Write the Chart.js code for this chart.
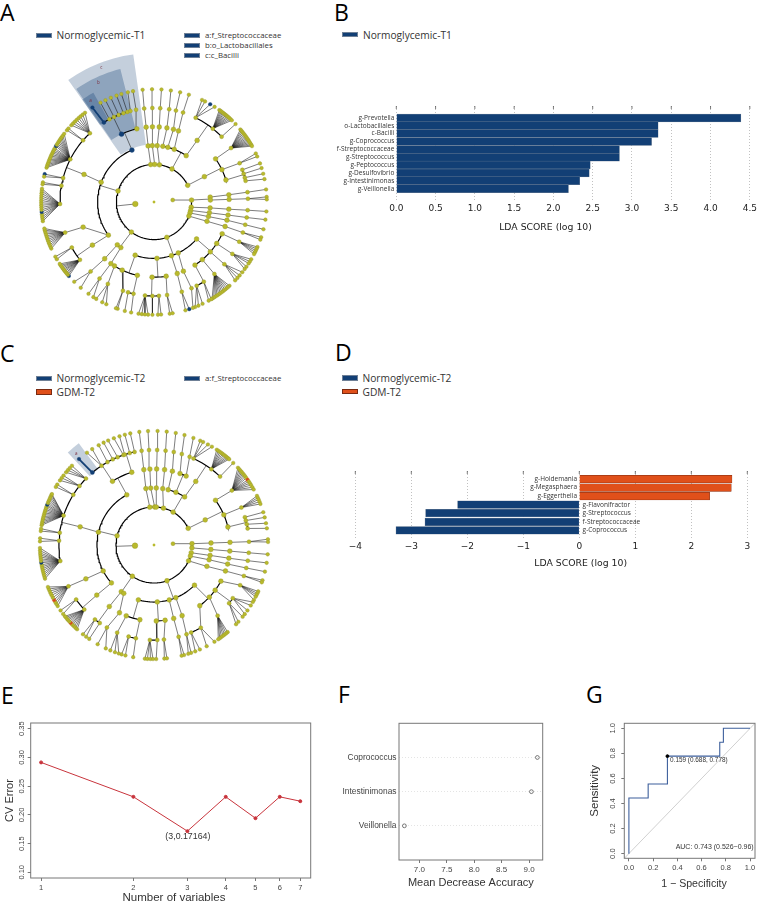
<!DOCTYPE html>
<html>
<head>
<meta charset="utf-8">
<script src="https://cdn.jsdelivr.net/npm/chart.js@4"></script>
<style>
  html, body { margin: 0; padding: 0; background: #fff; width: 760px; height: 902px; overflow: hidden; }
  body { position: relative; font-family: "Open Sans", sans-serif; color: #333; }
  canvas { position: absolute; }
  .letter { position: absolute; font-size: 23px; line-height: 22px; color: #000; }
  .swatch { position: absolute; width: 16px; height: 5.5px; box-sizing: border-box; border: 0.5px solid #6f8096; background: #123f75; }
  .swatch.orange { background: #e0501a; border-color: #7a2a10; }
  .leg { position: absolute; font-size: 10.2px; line-height: 12px; color: #333; white-space: nowrap; }
  .leg.small { font-size: 7.8px; }
  .axis { position: absolute; transform: translate(-50%, -50%); white-space: nowrap; color: #333; font-family: "Liberation Sans", Arial, sans-serif; font-size: 11.5px; line-height: 14px; }
  .axis.lda { font-family: "DejaVu Sans", sans-serif; font-size: 9.3px; color: #222; }
</style>
</head>
<body>

<div class="letter" style="left:0;top:1px">A</div>
<div class="letter" style="left:334px;top:1px">B</div>
<div class="letter" style="left:0;top:342px">C</div>
<div class="letter" style="left:335px;top:341px">D</div>
<div class="letter" style="left:1px;top:684px">E</div>
<div class="letter" style="left:338px;top:683px">F</div>
<div class="letter" style="left:586px;top:683px">G</div>

<div class="swatch" style="left:36px;top:32.5px"></div><div class="leg" style="left:56.5px;top:29px">Normoglycemic-T1</div>
<div class="swatch" style="left:184px;top:32.5px"></div><div class="leg small" style="left:205px;top:29px">a:f_Streptococcaceae</div>
<div class="swatch" style="left:184px;top:42.5px"></div><div class="leg small" style="left:205px;top:39px">b:o_Lactobacillales</div>
<div class="swatch" style="left:184px;top:52.5px"></div><div class="leg small" style="left:205px;top:49px">c:c_Bacilli</div>
<div class="swatch" style="left:342px;top:31.5px"></div><div class="leg" style="left:363px;top:28.5px">Normoglycemic-T1</div>

<div class="swatch" style="left:36px;top:375.5px"></div><div class="leg" style="left:56.5px;top:372px">Normoglycemic-T2</div>
<div class="swatch orange" style="left:36px;top:389px"></div><div class="leg" style="left:56.5px;top:386px">GDM-T2</div>
<div class="swatch" style="left:184px;top:375.5px"></div><div class="leg small" style="left:205px;top:372px">a:f_Streptococcaceae</div>
<div class="swatch" style="left:342px;top:375px"></div><div class="leg" style="left:362.5px;top:372px">Normoglycemic-T2</div>
<div class="swatch orange" style="left:342px;top:388.5px"></div><div class="leg" style="left:362.5px;top:386px">GDM-T2</div>

<canvas id="cladeA" width="320" height="320" style="left:-6px;top:42px"></canvas>
<canvas id="ldaB" width="435" height="133" style="left:325px;top:100px"></canvas>
<canvas id="cladeC" width="320" height="320" style="left:-6px;top:385px"></canvas>
<canvas id="ldaD" width="430" height="104" style="left:330px;top:465px"></canvas>
<canvas id="cvE" width="325" height="189" style="left:0;top:715px"></canvas>
<canvas id="accF" width="225" height="175" style="left:330px;top:715px"></canvas>
<canvas id="rocG" width="175" height="175" style="left:585px;top:715px"></canvas>

<div class="axis lda" style="left:545.5px;top:226.7px">LDA SCORE (log 10)</div>
<div class="axis lda" style="left:580.7px;top:563.3px">LDA SCORE (log 10)</div>
<div class="axis" style="left:174px;top:897px">Number of variables</div>
<div class="axis" style="left:694px;top:882.7px;font-size:10.6px">1 &minus; Specificity</div>

<script>
// panel B
const namesB = ['g-Prevotella','o-Lactobacillales','c-Bacilli','g-Coprococcus','f-Streptococcaceae','g-Streptococcus','g-Peptococcus','g-Desulfovibrio','g-Intestinimonas','g-Veillonella']
const scoresB = [4.386,3.333,3.333,3.249,2.84,2.84,2.469,2.456,2.334,2.191]
const ticksB = [0,0.5,1,1.5,2,2.5,3,3.5,4,4.5]

// panel D
const namesD = ['g-Holdemania','g-Megasphaera','g-Eggerthella','g-Flavonifractor','g-Streptococcus','f-Streptococcaceae','g-Coprococcus']
const scoresD = [2.726,2.714,2.327,-2.173,-2.744,-2.756,-3.274]
const ticksD = [-4,-3,-2,-1,0,1,2,3]

// panel E
const varsE = [1,2,3,4,5,6,7]
const errorE = [0.2913,0.2314,0.17164,0.2314,0.1942,0.2314,0.2238]
const ticksE = [0.10,0.15,0.20,0.25,0.30,0.35]

// panel F
const namesF = ['Coprococcus','Intestinimonas','Veillonella']
const accF = [9.152,9.043,6.727]
const ticksF = [7,7.5,8,8.5,9]

// panel G
const rocX = [0,0,0.159,0.159,0.318,0.318,0.75,0.75,0.78,0.78,1]
const rocY = [0,0.444,0.444,0.556,0.556,0.778,0.778,0.889,0.889,1,1]
const ticksG = [0,0.2,0.4,0.6,0.8,1]

// cladograms: [angle, ...children], a bare number is a leaf. angle is degrees clockwise from north,
// depth in the nesting is the ring. 's' = children joined by straight lines, no arc
const treeA = [
 [84,
  [87,[85,[84.5,[84,83.6]]],[88,[88,[88,87.4,88.7]]]],
  [98,[96,[95.5,[95,94.8]]]]],
 [264,
  [103,[101,[100,[99.5,99]]]],
  [107,[105,[104,[104,104]]]],
  [112,[110,[109,[109,108.2,109.5]]]],
  [160,
   [131,
    [115,[115,113.5,114.5,115.5,116.5,117.5]],
    [123.5,[123.5,120.5,121.8,123,125,126.5]],
    [131.5,[131.5,128.5,130.6,132.3,134]],
    [140,[140,138,139,140,141,142,143,144,145,146,147,148,149]],
    [147,[148,149.5,151],[153,154.5,156.8,158.6]]],
   [154.5,[157,[156.5,159.8]]],
   [162,[162,[162.8,161.8,163.8]]],
   [177,[181.5,[185.5,187.9,186.2,184.6,183],[181,180.8],[177,178,176.4]],[170.7,[172,172,170.5]]],
   [199.5,[192.8,[192.6,191.7],[196,195]],[205,[199.3,198.8,199.7]],[211.7,[209.4,205,207.3,210.8]]]],
  [217,[220.6,[221,[222.4,225,220.5]]],[216,[215,[215.4,215.5,212.5]]]],
  [287,
   [234,'s',
    [235,[241,239.5,241],[232,229,229.8,230.5,231.2,232,232.7,233.4,234.2,235,235.8,236.7]],
    [250.5,[251,245.6,246.6,247.6,248.6,249.6,250.6,251.6,252.6,253.6,254.6,255.5,256.4]]],
   [290.5,[291.5,
    [268.8,260.2,261.3,262.4,263.6,264.9,266,267.2,268.4,269.6,270.8,272,273.2,274.4,275.6,276.7],
    [280,280,279],
    [284.8,284.3,283],
    [297,287.7,288.6,289.5,290.4,291.3,292.2,293.1,294,294.9,295.8,296.7,297.6,298.5,299.7,300.5,301.4,302.3,303.2,304.1,305,306,307.2],
    [311,309.5,310.7],
    [317,312.9,314.2,315.5,316.8,318.1,319.4,320.8,322.3]]],
   [337,
    [334.4,[327.8,326.9],[331.7,331.7],[334.8,334.5],[337.9,337.5],[341,340.6],[343.5,343.2],[345.5,346.6]],
    [346.8,[349,349.3]]]],
  [355,[354,[354,[354,354.2]]]],
  [361,[358.3,[358.8,[359,359]]]],
  [368.3,[363.3,[364,[363.8,363.8]]]],
  [388.6,
   [9,[9.9,[9.3,8.6]]],
   [14.2,[15,[13.5,13.4]]],
   [21,[19,[18,18]]],
   [34.8,[35,[26.3,25.2,26.9,29.9,32.5],[38.7,35.4,36.1,36.8,37.5,38.2,38.9,39.6,40.3,41,41.8,42.7,43.6],[46,46.3]]]],
  [423.6,[63.3,
   [55,[55,50,50.8,51.6,52.4,53.2,54,54.8,55.6,56.4,57.2,58,58.8,59.6,60.3]],
   [64.5,[65.6,64.5,66.2]],
   [73,[70,70],[72.5,72.5],[75,75.5],[77,78.3]]]]]
]
const blueA = [[3,337],[4,334.4],[5,327.8],[6,326.9],[6,29.9],[6,161.8],[6,229],[6,264.9],[6,284.3],[6,299.7]]
const orangeA = []
const blueEdgeA = [[5,327.8,6,326.9]]
const wedgesA = [[324.9,352,3.07,7.93,0.25],[325.5,345.8,4,7.3,0.3],[325,331,5,6.65,0.3]]
const wedgeLettersA = [['c',338.5,7.65],['b',335,7],['a',327.8,6.34]]

const treeC = [
 [86,
  [88,[88,[88,[88,87.1,88.5]]]],
  [94.4,[94.5,[94.6,[94.7,94.7]]]]],
 [268,
  [101.8,[100.5,[100,[99.5,99]]]],
  [107,[105,[104.5,[104,103.5]]]],
  [114.6,[112,[110,[109,108,109.1]]]],
  [160,
   [134.8,
    [118.4,[115,114,115,116,117,118.8]],
    [126.5,[124,120,122,125,127.3],[127.8,129,132.3,134]],
    [133.3,[138,139.8,140.8,141.8,142.8,143.8,144.8,145.7]],
    [143,[150.5,148,152.5],[157,156.3,158.8]]],
   [157.5,[158.3,[160,161,162.5]]],
   [164.5,[165,[165,164.7,166]]],
   [176.7,[178.3,[182.5,184.6,183.3,181.8,180.5],[178,178.9]],[171.6,[174,174.8,173.5]]],
   [195.9,[190.7,[191,190.5],[195.5,194.5,196.5]],[201.4,[202.8,198,200,202.5]]]],
  [214.7,[215,[216,[218.4,218.5,216.5],[214.8,214.6]]],[212,[207,[209.7,209.6,205]]]],
  [284,
   [228.3,[228.8,
    [227.2,222.4,223.4,224.4,225.4,226.2,227,227.9,228.8,229.6,230.5,231.3],
    [235,235,232.8]]],
   [242.9,[243.6,[244.2,237.6,238.9,240,241.2,242.5,243.8,245,246.2,247.3,248.4]]],
   [283,[283.8,
    [260.3,252.8,253.8,254.9,255.9,257,258,259,260,261.1,262,263,264,265,266,267.2,268.5],
    [272.6,273.4,271.8],
    [277.4,277,278.2],
    [288,280,280.9,281.8,282.7,283.6,284.5,285.4,286.3,287.2,288.1,289,289.9,290.7,291.6,292.5,293.4,294.3,295.2,296,296.5],
    [301.9,300.6,302],
    [308.4,304.5,306,307.5],
    [314.3,309.6,311,312.4,314]]],
   [331.5,
    [326.9,[319.6,318.9],[326.5,324,327.2],[330.7,331],[334.3,333.8],[337.5,336.3],[341.2,339.4]],
    [343,[342,342.4],[345.2,345.2],[348.2,348]]]],
  [353.6,[351.8,[352.3,[352.5,352.6]]]],
  [361,[356.7,[356.9,[357,357]]]],
  [363.5,[362.3,[362,[361.9,361.8]]]],
  [374.4,[368.8,[368,[367,366.4]]]],
  [390.3,
   [14.4,[14,[12,11]]],
   [22.6,[20,[17,15.5]],[25,[22,20.2]]],
   [32.5,[33.3,[24.6,23.9,25.5,28.2,30.5],[37.1,33.4,34.3,35.2,36.1,37,37.9,38.8,39.6,40.4,41.2],[44,44]]]],
  [424,[63.9,
   [54,[55,47.4,48.4,49.4,50.3,51.2,52.1,53,54,55.2,56.2,57.2,58.3,59.6,60.9]],
   [66.6,[66.8,64.5,65.5,66.5,67.7,68.9]],
   [76.3,[73,73.3],[75.1,76],[77.4,79],[80,81.6]]]]]
]
const blueC = [[5,319.6],[6,318.9],[6,261.1],[6,290.7]]
const orangeC = [[6,55.2],[6,241.2],[6,227]]
const blueEdgeC = [[5,319.6,6,318.9]]
const wedgesC = [[317,323.5,4.95,6.65,0.25]]
const wedgeLettersC = [['a',319.5,6.3]]

const NAVY = '#123f75'
const OLIVE = '#b9ba2c'
const sansR = '"Liberation Sans", Arial, sans-serif'
const sansD = '"DejaVu Sans", sans-serif'
const sansO = '"Open Sans", sans-serif'

Chart.defaults.animation = false
Chart.defaults.responsive = false
Chart.defaults.plugins.legend.display = false
Chart.defaults.plugins.tooltip.enabled = false

function polar(angle, ring) {
  const a = angle * Math.PI / 180
  return { x: ring * Math.sin(a), y: ring * Math.cos(a) }
}

function arcPoints(from, to, ring) {
  const pts = []
  const n = Math.max(2, Math.ceil(Math.abs(to - from) / 2))
  for (let i = 0; i <= n; i++) pts.push(polar(from + (to - from) * i / n, ring))
  return pts
}

function cladeChart(id, tree, blue, orange, blueEdge, wedges, letters, ringPx) {
  const thin = [], thick = [], nodes = [], radius = [], fill = [], stroke = []
  const has = (list, ring, a) => list.some(p => p[0] === ring && p[1] === a)
  const gap = { x: NaN, y: NaN }

  function addNode(a, ring) {
    nodes.push(polar(a, ring))
    let r = ring === 6 ? 1.8 : ring === 5 ? 2 : 2.4
    if (ring === 1) r = a > 180 ? 2.8 : 2
    radius.push(r)
    const col = has(blue, ring, a) ? NAVY : has(orange, ring, a) ? '#d9481a' : OLIVE
    fill.push(col)
    stroke.push(col === OLIVE ? '#97982a' : col)
  }

  function walk(node, ring) {
    const isLeaf = typeof node === 'number'
    const a = isLeaf ? node : node[0]
    addNode(a, ring)
    if (isLeaf) return
    const straight = node[1] === 's'
    const kids = node.slice(straight ? 2 : 1)
    const angles = kids.map(k => typeof k === 'number' ? k : k[0])
    if (kids.length > 1 && ring < 5 && !straight) {
      const lo = Math.min(...angles), hi = Math.max(...angles)
      let p = a
      while (p > hi + 180) p -= 360
      const end = Math.min(hi, Math.max(lo, p))
      thin.push(polar(a, ring), polar(end, ring + 1), gap)
      thick.push(...arcPoints(lo, hi, ring + 1), gap)
    } else {
      angles.forEach(b => thin.push(polar(a, ring), polar(b, ring + 1), gap))
    }
    kids.forEach(k => walk(k, ring + 1))
  }
  tree.forEach(n => walk(n, 1))
  nodes.push({ x: 0, y: 0 }); radius.push(1.2); fill.push(OLIVE); stroke.push(OLIVE)

  const blueLines = []
  blueEdge.forEach(e => blueLines.push(polar(e[1], e[0]), polar(e[3], e[2]), gap))

  const wedgeSets = wedges.map(w => ({
    data: [...arcPoints(w[0], w[1], w[3]), ...arcPoints(w[1], w[0], w[2])],
    showLine: true, fill: 'shape', borderWidth: 0, pointRadius: 0,
    backgroundColor: 'rgba(18,63,117,' + w[4] + ')'
  })).reverse()

  const lim = 160 / ringPx
  new Chart(document.getElementById(id), {
    type: 'scatter',
    data: { datasets: [
      { data: nodes, pointRadius: radius, pointBackgroundColor: fill, pointBorderColor: stroke, pointBorderWidth: 0.4 },
      { data: blueLines, showLine: true, borderColor: NAVY, borderWidth: 1.8, pointRadius: 0 },
      { data: thick, showLine: true, borderColor: '#000', borderWidth: 1.2, pointRadius: 0 },
      { data: thin, showLine: true, borderColor: '#111', borderWidth: 0.55, pointRadius: 0 },
      ...wedgeSets
    ] },
    options: {
      layout: { padding: 0 },
      scales: {
        x: { display: false, min: -lim, max: lim },
        y: { display: false, min: -lim, max: lim }
      }
    },
    plugins: [{
      id: 'wedgeLetters',
      afterDatasetsDraw(chart) {
        const c = chart.ctx
        c.save()
        c.font = '4.5px ' + sansO
        c.fillStyle = '#7a2a3a'
        c.textAlign = 'center'
        c.textBaseline = 'middle'
        letters.forEach(l => {
          const p = polar(l[1], l[2])
          c.fillText(l[0], chart.scales.x.getPixelForValue(p.x), chart.scales.y.getPixelForValue(p.y))
        })
        c.restore()
      }
    }]
  })
}

cladeChart('cladeA', treeA, blueA, orangeA, blueEdgeA, wedgesA, wedgeLettersA, 19.33)
cladeChart('cladeC', treeC, blueC, orangeC, blueEdgeC, wedgesC, wedgeLettersC, 19.55)

// fixes the plot rectangle in page pixels
function frame(cv, l, t, r, b) {
  return {
    padding: { top: t - cv.top, right: cv.left + cv.w - r, left: 0, bottom: 0 },
    xFit: s => { s.height = cv.top + cv.h - b },
    yFit: s => { s.width = l - cv.left }
  }
}

const setTicks = arr => s => { s.ticks = arr.map(v => ({ value: v })) }

const topMarks = {
  id: 'topMarks',
  afterDraw(chart) {
    const c = chart.ctx, s = chart.scales.x
    c.save()
    c.strokeStyle = '#444'
    c.lineWidth = 0.7
    s.ticks.forEach((t, i) => {
      const x = s.getPixelForTick(i)
      c.beginPath(); c.moveTo(x, chart.chartArea.top); c.lineTo(x, chart.chartArea.top + 3); c.stroke()
    })
    c.restore()
  }
}

function ldaOptions(f, yMin, yMax, xMin, xMax, ticks, fmt, yLabels) {
  return {
    indexAxis: 'y',
    layout: { padding: f.padding },
    scales: {
      x: {
        type: 'linear', min: xMin, max: xMax,
        afterBuildTicks: setTicks(ticks),
        afterFit: f.xFit,
        border: { display: false, dash: [1, 2] },
        grid: { color: 'rgba(0,0,0,0.35)', lineWidth: 0.7, drawTicks: false },
        ticks: { font: { family: sansD, size: 9 }, color: '#222', padding: 3, callback: fmt, autoSkip: false, maxRotation: 0 }
      },
      y: {
        type: 'linear', min: yMin, max: yMax, reverse: true,
        afterBuildTicks: setTicks(yLabels ? yLabels.map((_, i) => i) : []),
        afterFit: f.yFit,
        border: { display: false },
        grid: { display: false, drawTicks: false },
        ticks: { font: { family: sansO, size: 6.5 }, color: '#333', padding: 2, autoSkip: false, callback: v => yLabels ? yLabels[v] : '' }
      }
    }
  }
}

const fB = frame({ left: 325, top: 100, w: 435, h: 133 }, 396.3, 106, 752.3, 200)
new Chart(document.getElementById('ldaB'), {
  type: 'bar',
  data: { datasets: [{
    data: namesB.map((n, i) => ({ x: scoresB[i], y: i })),
    backgroundColor: NAVY, borderColor: '#6f8096', borderWidth: 0.5, barThickness: 7.8
  }] },
  options: ldaOptions(fB, -0.915, 9.84, 0, 4.5, ticksB, v => v.toFixed(1), namesB),
  plugins: [topMarks]
})

const fD = frame({ left: 330, top: 465, w: 430, h: 104 }, 355.3, 471, 747.3, 538)
new Chart(document.getElementById('ldaD'), {
  type: 'bar',
  data: { datasets: [{
    data: namesD.map((n, i) => ({ x: scoresD[i], y: i })),
    backgroundColor: scoresD.map(v => v > 0 ? '#e0501a' : NAVY),
    borderColor: scoresD.map(v => v > 0 ? '#7a2a10' : '#6f8096'),
    borderWidth: 0.5, barThickness: 7.6
  }] },
  options: ldaOptions(fD, -0.94, 6.9, -4, 3, ticksD, v => String(v).replace('-', '\u2212'), null),
  plugins: [topMarks, {
    id: 'zeroLabels',
    afterDatasetsDraw(chart) {
      const c = chart.ctx, zero = chart.scales.x.getPixelForValue(0)
      c.save()
      c.font = '6.5px ' + sansO
      c.fillStyle = '#333'
      c.textBaseline = 'middle'
      namesD.forEach((n, i) => {
        const up = scoresD[i] > 0
        c.textAlign = up ? 'right' : 'left'
        c.fillText(n, zero + (up ? -2.3 : 3.3), chart.scales.y.getPixelForValue(i))
      })
      c.restore()
    }
  }]
})

const GREY = '#777'
const TXT = '#444'

const boxLine = {
  id: 'boxLine',
  afterDraw(chart) {
    const a = chart.chartArea, c = chart.ctx
    c.save()
    c.strokeStyle = GREY
    c.lineWidth = 1
    c.strokeRect(a.left, a.top, a.right - a.left, a.bottom - a.top)
    c.restore()
  }
}

// R draws its y tick labels turned a quarter, scales here only do that on x
function sideTicks(x, size, fmt) {
  return {
    id: 'sideTicks',
    afterDraw(chart) {
      const c = chart.ctx, s = chart.scales.y
      c.save()
      c.font = size + 'px ' + sansR
      c.fillStyle = TXT
      c.textAlign = 'center'
      c.textBaseline = 'middle'
      s.ticks.forEach(t => {
        c.save()
        c.translate(x, s.getPixelForValue(t.value))
        c.rotate(-Math.PI / 2)
        c.fillText(fmt(t.value), 0, 0)
        c.restore()
      })
      c.restore()
    }
  }
}

function notes(list) {
  return {
    id: 'notes',
    afterDraw(chart) {
      const c = chart.ctx
      c.save()
      c.fillStyle = '#333'
      c.textBaseline = 'middle'
      list.forEach(n => {
        c.font = n.size + 'px ' + sansR
        c.textAlign = n.align
        c.fillText(n.text, chart.scales.x.getPixelForValue(n.x), chart.scales.y.getPixelForValue(n.y))
      })
      c.restore()
    }
  }
}

const axisTick = { drawOnChartArea: false, drawTicks: true, tickLength: 3, color: GREY }

const fE = frame({ left: 0, top: 715, w: 325, h: 189 }, 30.7, 723, 310.7, 878)
new Chart(document.getElementById('cvE'), {
  type: 'line',
  data: { datasets: [{
    data: varsE.map((v, i) => ({ x: v, y: errorE[i] })),
    borderColor: '#c8343c', backgroundColor: '#c8343c', borderWidth: 1, pointRadius: 1.5
  }] },
  options: {
    layout: { padding: fE.padding },
    scales: {
      x: {
        type: 'logarithmic', min: 0.925, max: 7.57,
        afterBuildTicks: setTicks(varsE), afterFit: fE.xFit,
        border: { display: false }, grid: axisTick,
        ticks: { font: { family: sansR, size: 7.5 }, color: TXT, padding: 2, autoSkip: false, maxRotation: 0, callback: v => String(v) }
      },
      y: {
        min: 0.0901, max: 0.3599,
        afterBuildTicks: setTicks(ticksE), afterFit: fE.yFit,
        border: { display: false }, grid: axisTick,
        ticks: { display: false },
        title: { display: true, text: 'CV Error', font: { family: sansR, size: 11 }, color: '#333', padding: { top: 3, bottom: 0 } }
      }
    }
  },
  plugins: [boxLine, sideTicks(21.7, 7.5, v => v.toFixed(2)), notes([{ text: '(3,0.17164)', x: 3.01, y: 0.1615, size: 8.8, align: 'center' }])]
})

const fF = frame({ left: 330, top: 715, w: 225, h: 175 }, 399, 723.3, 542.7, 860)
new Chart(document.getElementById('accF'), {
  type: 'scatter',
  data: { datasets: [{
    data: namesF.map((n, i) => ({ x: accF[i], y: 3 - i })),
    backgroundColor: 'rgba(0,0,0,0)', borderColor: '#444', borderWidth: 0.7, pointRadius: 1.9
  }] },
  options: {
    layout: { padding: fF.padding },
    scales: {
      x: {
        type: 'linear', min: 6.629, max: 9.249,
        afterBuildTicks: setTicks(ticksF), afterFit: fF.xFit,
        border: { display: false }, grid: axisTick,
        ticks: { font: { family: sansR, size: 8 }, color: TXT, padding: 2, autoSkip: false, maxRotation: 0, callback: v => v.toFixed(1) },
        title: { display: true, text: 'Mean Decrease Accuracy', font: { family: sansR, size: 11 }, color: '#333', padding: 0 }
      },
      y: {
        min: 0, max: 4,
        afterBuildTicks: setTicks([1, 2, 3]), afterFit: fF.yFit,
        border: { display: false, dash: [1, 2] },
        grid: { color: 'rgba(0,0,0,0.18)', lineWidth: 0.6, drawTicks: false },
        ticks: { font: { family: sansR, size: 8.4 }, color: TXT, padding: 2.5, autoSkip: false, callback: v => namesF[3 - v] }
      }
    }
  },
  plugins: [boxLine]
})

const fG = frame({ left: 585, top: 715, w: 175, h: 175 }, 624.3, 723.3, 756, 858.3)
new Chart(document.getElementById('rocG'), {
  type: 'scatter',
  data: { datasets: [
    { data: [{ x: rocX[5], y: rocY[5] }], backgroundColor: '#000', borderColor: '#000', pointRadius: 1.4 },
    { data: rocX.map((v, i) => ({ x: v, y: rocY[i] })), showLine: true, borderColor: '#3d5f9c', borderWidth: 1.1, pointRadius: 0 },
    { data: [{ x: -0.038, y: -0.037 }, { x: 1.041, y: 1.04 }], showLine: true, borderColor: '#bbb', borderWidth: 0.7, pointRadius: 0 }
  ] },
  options: {
    layout: { padding: fG.padding },
    scales: {
      x: {
        type: 'linear', min: -0.038, max: 1.041,
        afterBuildTicks: setTicks(ticksG), afterFit: fG.xFit,
        border: { display: false }, grid: axisTick,
        ticks: { font: { family: sansR, size: 7.5 }, color: TXT, padding: 2, autoSkip: false, maxRotation: 0, callback: v => v.toFixed(1) }
      },
      y: {
        min: -0.037, max: 1.04,
        afterBuildTicks: setTicks(ticksG), afterFit: fG.yFit,
        border: { display: false }, grid: axisTick,
        ticks: { display: false },
        title: { display: true, text: 'Sensitivity', font: { family: sansR, size: 11.5 }, color: '#333', padding: { top: 3, bottom: 0 } }
      }
    }
  },
  plugins: [boxLine, sideTicks(613.3 - 585, 7.5, v => v.toFixed(1)), notes([
    { text: '0.159 (0.688, 0.778)', x: 0.34, y: 0.748, size: 6.4, align: 'left' },
    { text: 'AUC: 0.743 (0.526\u22120.96)', x: 1.03, y: 0.05, size: 7, align: 'right' }
  ])]
})
</script>
</body>
</html>
